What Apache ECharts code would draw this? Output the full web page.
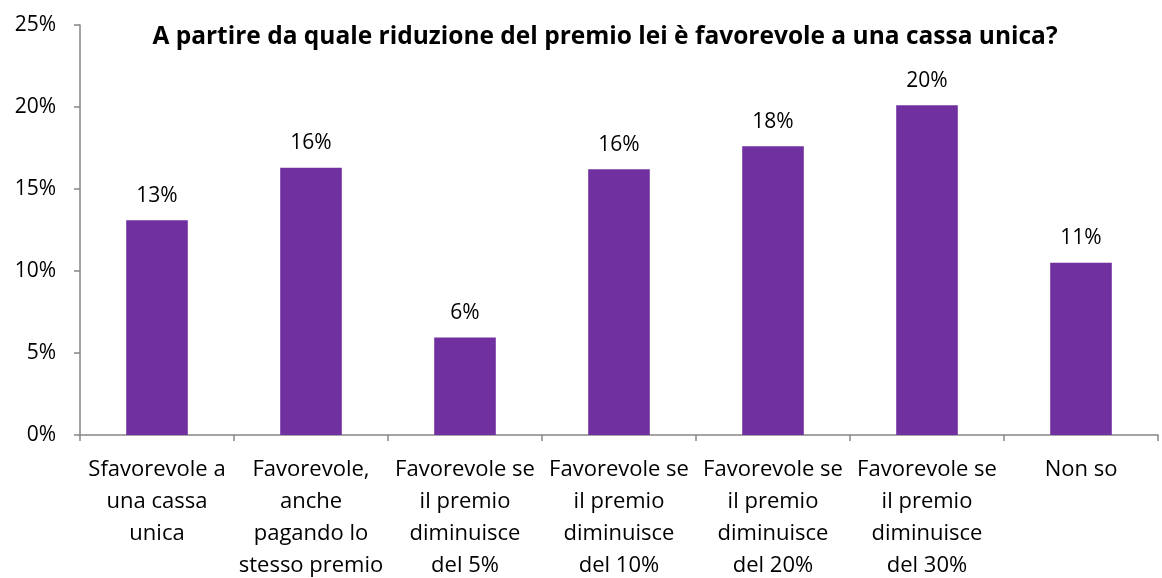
<!DOCTYPE html>
<html>
<head>
<meta charset="utf-8">
<script src="https://cdn.jsdelivr.net/npm/echarts@6/dist/echarts.min.js"></script>
<style>
  html, body { margin: 0; padding: 0; background: #fff; }
  #chart { width: 1162px; height: 578px; }
</style>
</head>
<body>
<div id="chart"></div>
<script>
// categorie (a capo come nell'originale)
const categories = [
  'Sfavorevole a\nuna cassa\nunica',
  'Favorevole,\nanche\npagando lo\nstesso premio',
  'Favorevole se\nil premio\ndiminuisce\ndel 5%',
  'Favorevole se\nil premio\ndiminuisce\ndel 10%',
  'Favorevole se\nil premio\ndiminuisce\ndel 20%',
  'Favorevole se\nil premio\ndiminuisce\ndel 30%',
  'Non so'
]
// percentuali
const values = [13.1, 16.3, 5.95, 16.2, 17.6, 20.1, 10.5]
const yTicks = [0, 5, 10, 15, 20, 25]

const titleText = 'A partire da quale riduzione del premio lei è favorevole a una cassa unica?'
const font = '"Open Sans", sans-serif'

const myChart = echarts.init(document.getElementById('chart'))

const option = {
  animation: false,
  backgroundColor: '#fff',
  textStyle: { fontFamily: font },
  title: {
    text: titleText,
    left: 600,
    textAlign: 'center',
    top: 20,
    textStyle: { fontFamily: font, fontSize: 24.5, fontWeight: 'bold', color: '#000' }
  },
  grid: { left: 80, right: 4, top: 25, bottom: 143, containLabel: false, outerBoundsMode: 'none' },
  xAxis: {
    type: 'category',
    data: categories,
    axisLine: { lineStyle: { color: '#868686', width: 1.5 } },
    axisTick: { show: true, length: 6, lineStyle: { color: '#868686', width: 1.5 } },
    axisLabel: {
      interval: 0,
      color: '#000',
      fontSize: 22,
      fontFamily: font,
      lineHeight: 32,
      margin: 19,
      align: 'center'
    }
  },
  yAxis: {
    type: 'value',
    min: yTicks[0],
    max: yTicks[yTicks.length - 1],
    interval: 5,
    splitLine: { show: false },
    axisLine: { show: true, lineStyle: { color: '#868686', width: 1.5 } },
    axisTick: { show: true, length: 6, lineStyle: { color: '#868686', width: 1.5 } },
    axisLabel: {
      color: '#000',
      fontSize: 21,
      fontFamily: font,
      margin: 24,
      formatter: '{value}%'
    }
  },
  series: [{
    type: 'bar',
    data: values,
    barWidth: '40%',
    itemStyle: { color: '#7030A0' },
    label: {
      show: true,
      position: 'top',
      distance: 14,
      color: '#000',
      fontSize: 21,
      fontFamily: font,
      formatter: p => Math.round(p.value) + '%'
    }
  }]
}

myChart.setOption(option)
</script>
</body>
</html>
